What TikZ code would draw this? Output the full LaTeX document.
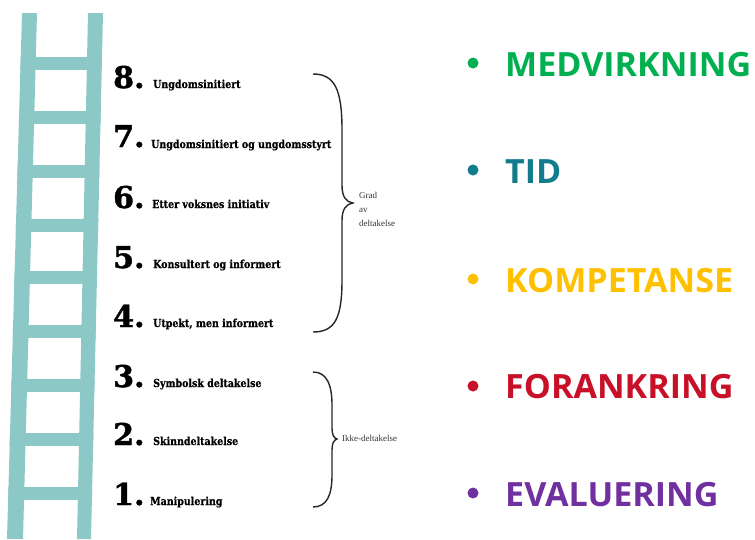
\documentclass[tikz,border=0pt]{standalone}
\usepackage{fontspec}
\setmainfont{DejaVu Serif}
\newfontfamily\numfont{DejaVu Serif}[BoldFont={DejaVu Serif Bold},BoldFeatures={FakeBold=1.5}]
\newfontfamily\labfont{DejaVu Serif}[FakeStretch=0.86,BoldFeatures={FakeBold=0.6}]
\newfontfamily\bracefont{Liberation Serif}
\newfontfamily\keyfont{Open Sans}[FakeStretch=1.02]
\definecolor{ladder}{RGB}{140,201,198}
\definecolor{kgreen}{RGB}{0,176,80}
\definecolor{kteal}{RGB}{18,124,140}
\definecolor{kyellow}{RGB}{255,192,0}
\definecolor{kred}{RGB}{200,16,40}
\definecolor{kpurple}{RGB}{112,48,160}
\begin{document}
\begin{tikzpicture}[x=1pt,y=-1pt,
  numtxt/.style={anchor=base west,inner sep=0pt,font=\numfont\bfseries\fontsize{30}{30}\selectfont},
  labtxt/.style={anchor=base west,inner sep=0pt,font=\labfont\bfseries\fontsize{11}{11}\selectfont},
  bracetxt/.style={anchor=west,inner sep=0pt,align=left,text=black!80,font=\bracefont\fontsize{9}{14}\selectfont},
  keytxt/.style={anchor=base west,inner sep=0pt,font=\keyfont\bfseries\fontsize{33.4}{34}\selectfont},
  bul/.style={circle,fill,inner sep=0pt,minimum size=11pt},
  bracepath/.style={line width=1.4pt,black!85}]
\useasboundingbox (0,0) rectangle (755,539);
% ladder
\fill[ladder] (22,13) -- (37,13) -- (23,539) -- (7,539) -- cycle;
\fill[ladder] (88,13) -- (103,13) -- (91,539) -- (77,539) -- cycle;
\begin{scope}
\clip (22,13) -- (103,13) -- (91,539) -- (7,539) -- cycle;
\foreach \yc in {63,117,171,225,277,331,385,439,493}{
  \fill[ladder] (0,\yc-6.5) rectangle (110,\yc+6.5);
}
\end{scope}
% numbers and labels
\node[numtxt] (n8) at (113,88) {8.};
\node[labtxt] (l8) at (153,88) {Ungdomsinitiert};
\node[numtxt] (n7) at (113,147) {7.};
\node[labtxt] (l7) at (151,148) {Ungdomsinitiert og ungdomsstyrt};
\node[numtxt] (n6) at (113,208) {6.};
\node[labtxt] (l6) at (152,208) {Etter voksnes initiativ};
\node[numtxt] (n5) at (113,268) {5.};
\node[labtxt] (l5) at (153,268) {Konsultert og informert};
\node[numtxt] (n4) at (113,327) {4.};
\node[labtxt] (l4) at (153,327) {Utpekt, men informert};
\node[numtxt] (n3) at (113,387) {3.};
\node[labtxt] (l3) at (153,387) {Symbolsk deltakelse};
\node[numtxt] (n2) at (113,445) {2.};
\node[labtxt] (l2) at (153,445) {Skinndeltakelse};
\node[numtxt] (n1) at (113,505) {1.};
\node[labtxt] (l1) at (150,505) {Manipulering};
% braces
\draw[bracepath] (313,74) .. controls (335,74) and (342,90) .. (342,130) -- (342,185)
  .. controls (342,197) and (346,202) .. (353,203)
  .. controls (346,204) and (342,209) .. (342,221) -- (342,280)
  .. controls (342,318) and (335,332) .. (313,332);
\draw[bracepath] (313,372) .. controls (327,372) and (332,385) .. (332,405) -- (332,428)
  .. controls (332,435) and (334,438) .. (337,439)
  .. controls (334,440) and (332,443) .. (332,450) -- (332,475)
  .. controls (332,495) and (327,507) .. (313,507);
\node[bracetxt] (g) at (359,209) {Grad\\av\\deltakelse};
\node[bracetxt] (ik) at (342,438) {Ikke-deltakelse};
% key words
\node[bul,kgreen] (b1) at (473,63) {};
\node[keytxt,text=kgreen] (k1) at (505,76) {MEDVIRKNING};
\node[bul,kteal] (b2) at (473,170) {};
\node[keytxt,text=kteal] (k2) at (505,183) {TID};
\node[bul,kyellow] (b3) at (473,279) {};
\node[keytxt,text=kyellow] (k3) at (505,292) {KOMPETANSE};
\node[bul,kred] (b4) at (473,386) {};
\node[keytxt,text=kred] (k4) at (505,398) {FORANKRING};
\node[bul,kpurple] (b5) at (473,493) {};
\node[keytxt,text=kpurple] (k5) at (505,506) {EVALUERING};
\end{tikzpicture}
\end{document}
